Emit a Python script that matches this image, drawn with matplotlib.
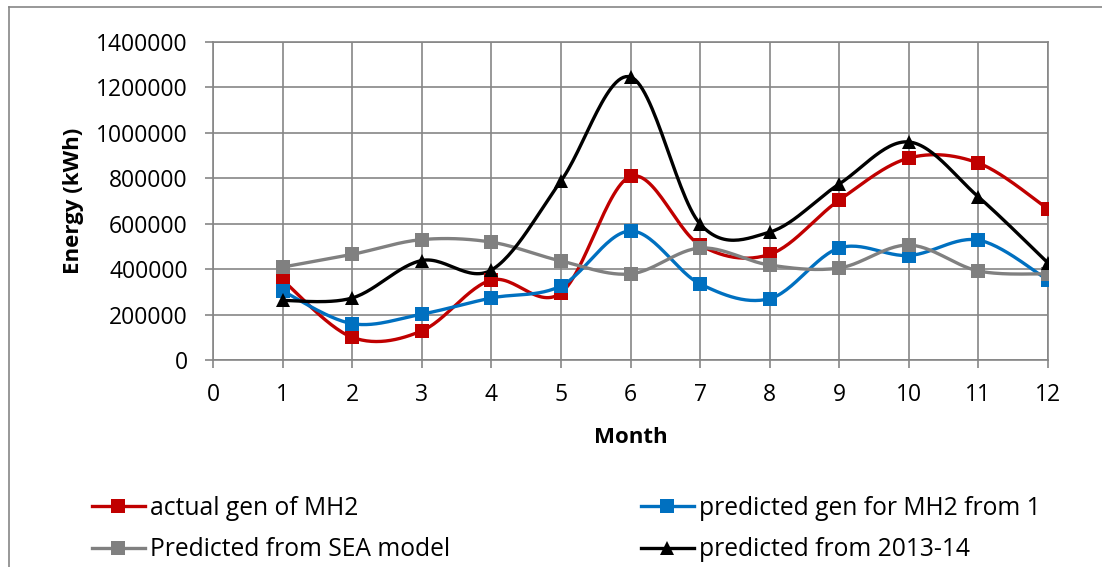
import numpy as np
import matplotlib.pyplot as plt
from matplotlib.lines import Line2D
from matplotlib.ticker import StrMethodFormatter

plt.rcParams['font.family'] = ['Open Sans', 'DejaVu Sans']

#(0) Data: monthly energy (kWh)
months    = [1, 2, 3, 4, 5, 6, 7, 8, 9, 10, 11, 12]
actual    = [352000, 100000, 128000, 352000, 295000, 808000, 506000, 465000, 704000, 889000, 867000, 665000]
pred_mh1  = [304000, 160000, 202000, 273000, 326000, 568000, 335000, 270000, 493000, 460000, 528000, 352000]
pred_sea  = [409000, 465000, 530000, 519000, 436000, 379000, 493000, 418000, 405000, 506000, 392000, 379000]
pred_1314 = [262000, 273000, 438000, 396000, 788000, 1246000, 599000, 563000, 775000, 960000, 718000, 427000]

labels = ['actual gen of MH2', 'predicted gen for MH2 from 1',
          'Predicted from SEA model', 'predicted from 2013-14']
colors = ['#C00000', '#0070C0', '#808080', '#000000']
markers = ['s', 's', 's', '^']
series = [actual, pred_mh1, pred_sea, pred_1314]


def smooth(x, y, n=30):
    # spreadsheet-style smoothed line: Bezier segments with Catmull-Rom handles
    x = np.asarray(x, float)
    y = np.asarray(y, float)
    P = np.column_stack([x, y])
    out = [P[:1]]
    t = np.linspace(0, 1, n)[1:, None]
    for i in range(len(P) - 1):
        p0 = P[i - 1] if i > 0 else P[i]
        p1, p2 = P[i], P[i + 1]
        p3 = P[i + 2] if i + 2 < len(P) else P[i + 1]
        c1 = p1 + (p2 - p0) / 6.0
        c2 = p2 - (p3 - p1) / 6.0
        seg = ((1 - t) ** 3) * p1 + 3 * ((1 - t) ** 2) * t * c1 + 3 * (1 - t) * t ** 2 * c2 + t ** 3 * p2
        out.append(seg)
    pts = np.vstack(out)
    return pts[:, 0], pts[:, 1]


#(1) Plot
FS = 16.5
fig = plt.figure(figsize=(11.02, 5.67), dpi=100)
ax = fig.add_axes([213 / 1102, 1 - 360 / 567, (1048 - 213) / 1102, (360 - 42) / 567])

grid_c = '#868686'
for y, c, m in zip(series, colors, markers):
    xs, ys = smooth(months, y)
    ax.plot(xs, ys, color=c, lw=2.4, solid_capstyle='round', zorder=3)
    ax.plot(months, y, ls='none', marker=m, color=c, ms=10 if m == 's' else 10.5,
            markeredgewidth=0, zorder=4)

ax.set_xlim(0, 12)
ax.set_ylim(0, 1400000)
ax.set_xticks(range(0, 13))
ax.set_yticks(np.arange(0, 1400001, 200000))
ax.yaxis.set_major_formatter(StrMethodFormatter('{x:.0f}'))
ax.grid(True, color=grid_c, lw=1.2)
ax.set_axisbelow(True)
for s in ax.spines.values():
    s.set_color(grid_c)
    s.set_linewidth(1.2)
ax.tick_params(axis='both', colors=grid_c, length=5.5, width=1.2, labelsize=FS,
               labelcolor='black')
ax.tick_params(axis='y', pad=12.5)
ax.tick_params(axis='x', pad=11)
ax.set_xlabel('Month', fontsize=16, fontweight='bold', labelpad=14.5)
ax.set_ylabel('Energy (kWh)', fontsize=16, fontweight='bold', labelpad=8.5)

# outer chart frame (left and top edges)
fig.add_artist(Line2D([9 / 1102, 9 / 1102], [0, 1 - 7 / 567], color=grid_c, lw=1.2))
fig.add_artist(Line2D([9 / 1102, 1], [1 - 7 / 567, 1 - 7 / 567], color=grid_c, lw=1.2))

handles = [Line2D([], [], color=c, lw=2.4, marker=m, ms=10 if m == 's' else 10.5,
                  markeredgewidth=0) for c, m in zip(colors, markers)]
leg_kw = dict(frameon=False, fontsize=17.7, handlelength=2.15, handletextpad=0.2,
              labelspacing=0.66, borderpad=0, borderaxespad=0, loc='upper left')
fig.legend([handles[0], handles[2]], [labels[0], labels[2]],
           bbox_to_anchor=(92 / 1102, 1 - 496 / 567), **leg_kw)
fig.legend([handles[1], handles[3]], [labels[1], labels[3]],
           bbox_to_anchor=(641 / 1102, 1 - 496 / 567), **leg_kw)

fig.savefig('out.png', dpi=100)
